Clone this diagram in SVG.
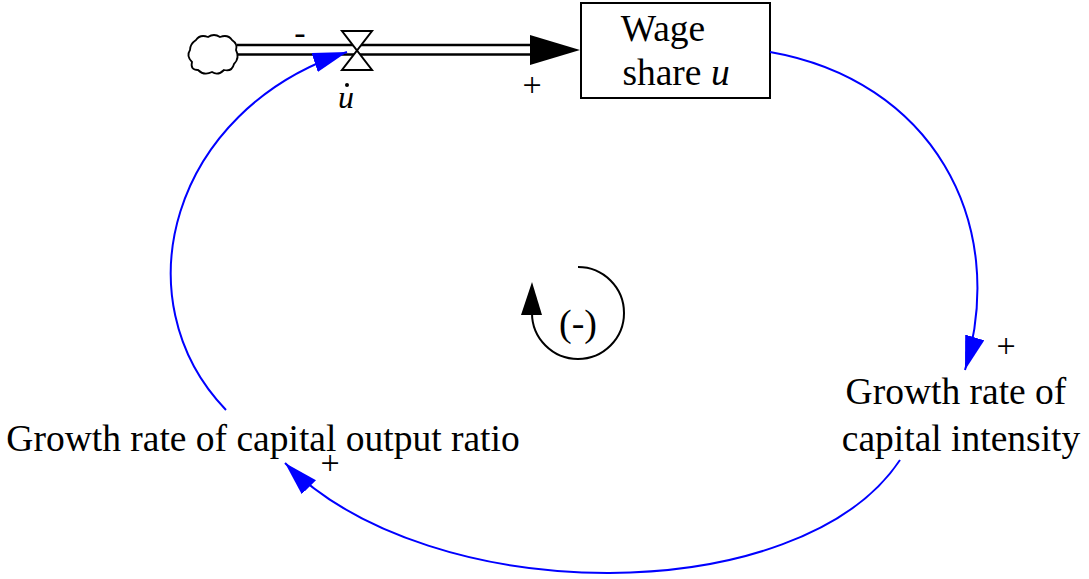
<svg xmlns="http://www.w3.org/2000/svg" width="1089" height="579" viewBox="0 0 1089 579">
<style>
text{font-family:"Liberation Serif","Times New Roman",serif;fill:#000}
.lbl{font-size:37.5px}
.sign{font-size:34px}
.link{fill:none;stroke:#0000ff;stroke-width:2}
</style>
<defs>
<marker id="blueArrow" markerUnits="userSpaceOnUse" markerWidth="40" markerHeight="24" refX="34" refY="10" orient="auto">
<path d="M0,0 L34,10 L0,20 Z" fill="#0000ff"/>
</marker>
</defs>
<rect width="1089" height="579" fill="#fff"/>
<g id="flow">
<path d="M196,40 q4,-6 12,-3 q6,-4 12,0 q8,-3 12,3 q6,4 4,10 q4,8 -2,14 q-2,8 -10,6 q-6,6 -12,2 q-8,4 -14,-2 q-8,0 -6,-8 q-6,-6 -2,-12 q0,-6 6,-10 z" fill="#fff" stroke="#000" stroke-width="1.8"/>
<line x1="237" y1="45" x2="532" y2="45" stroke="#000" stroke-width="2.5"/>
<line x1="237" y1="54.5" x2="532" y2="54.5" stroke="#000" stroke-width="2.5"/>
<path d="M530,35 L580,50 L530,65 Z" fill="#000"/>
<path d="M342,31 L372,31 L342,70 L372,70 Z" fill="#fff" stroke="#000" stroke-width="2"/>
<text class="sign" x="300" y="44" text-anchor="middle">-</text>
<text class="sign" x="532" y="96" text-anchor="middle">+</text>
<text x="346" y="108" text-anchor="middle" font-style="italic" font-size="32">u</text>
<circle cx="347" cy="85" r="2" fill="#000"/>
</g>
<g id="wage">
<rect x="581" y="3" width="189" height="95" fill="#fff" stroke="#000" stroke-width="2"/>
<text class="lbl" x="663" y="41" text-anchor="middle">Wage</text>
<text class="lbl" x="676" y="85" text-anchor="middle">share <tspan font-style="italic">u</tspan></text>
</g>
<g id="capint">
<text class="lbl" x="956" y="404" text-anchor="middle">Growth rate of</text>
<text class="lbl" x="961" y="451" text-anchor="middle">capital intensity</text>
</g>
<g id="capout">
<text class="lbl" x="263" y="451" text-anchor="middle">Growth rate of capital output ratio</text>
</g>
<g id="loop">
<path d="M578,267 A46,46 0 1 1 532,313" fill="none" stroke="#000" stroke-width="2"/>
<path d="M521,315 L532,282 L542,315 Z" fill="#000"/>
<text x="578" y="336" text-anchor="middle" font-size="38">(-)</text>
</g>
<g id="connectors">
<path class="link" d="M770,52 C930,80 1010,220 965,370" marker-end="url(#blueArrow)"/>
<text class="sign" x="1006" y="357" text-anchor="middle">+</text>
<path class="link" d="M900,460 C800,610 430,610 285,463" marker-end="url(#blueArrow)"/>
<text class="sign" x="330" y="474" text-anchor="middle">+</text>
<path class="link" d="M226,410 C120,300 170,110 347,52" marker-end="url(#blueArrow)"/>
</g>
</svg>
